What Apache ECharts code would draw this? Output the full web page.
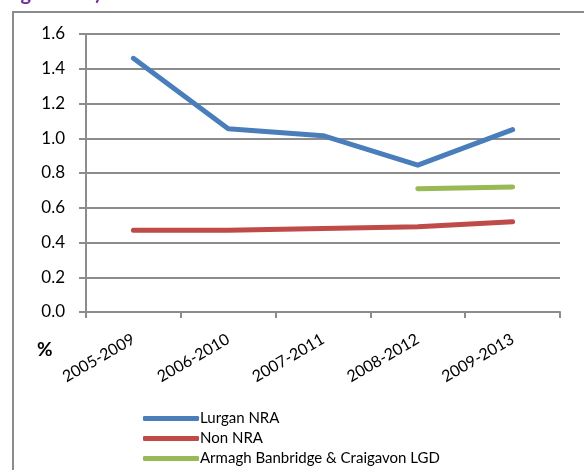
<!DOCTYPE html>
<html>
<head>
<meta charset="utf-8">
<script src="https://cdn.jsdelivr.net/npm/echarts@6/dist/echarts.min.js"></script>
<style>
html, body { margin: 0; padding: 0; background: #fff; }
#chart { width: 584px; height: 470px; }
</style>
</head>
<body>
<div id="chart"></div>
<script>
// 数据
const periods = ['2005-2009', '2006-2010', '2007-2011', '2008-2012', '2009-2013']
const lurganNra = [1.46, 1.055, 1.015, 0.845, 1.05]
const nonNra = [0.47, 0.47, 0.48, 0.49, 0.52]
const abcLgd = [null, null, null, 0.71, 0.72]
const yTicks = ['0.0', '0.2', '0.4', '0.6', '0.8', '1.0', '1.2', '1.4', '1.6']

const FONT = 'Lato, "Open Sans", sans-serif'
const GRID_COLOR = '#8c8c8c'

const myChart = echarts.init(document.getElementById('chart'))

const lineSeries = (name, data, color) => ({
	name: name,
	type: 'line',
	data: data,
	showSymbol: false,
	symbol: 'none',
	connectNulls: false,
	lineStyle: { color: color, width: 5, cap: 'round', join: 'round' },
	itemStyle: { color: color },
})

const option = {
	animation: false,
	graphic: [
		{
			// 外框
			type: 'rect',
			shape: { x: 13, y: 12, width: 620, height: 520 },
			style: { fill: 'none', stroke: '#8c8c8c', lineWidth: 2 },
			z: -1,
		},
		{
			// 被截掉的标题
			type: 'text',
			left: -8,
			top: -16,
			style: {
				text: 'Lurgan area)',
				fill: '#7030a0',
				font: 'bold 20px ' + FONT,
			},
		},
		{
			type: 'text',
			left: 37,
			top: 340,
			style: { text: '%', fill: '#000', font: 'bold 19px ' + FONT },
		},
	],
	grid: { left: 86, top: 34, right: 24, bottom: 158, containLabel: false },
	legend: {
		orient: 'vertical',
		left: 138,
		top: 406,
		height: 120,
		itemWidth: 56,
		itemHeight: 5,
		itemGap: 5,
		icon: 'roundRect',
		textStyle: { fontFamily: FONT, fontSize: 15, color: '#000', padding: [0, 0, 0, -4] },
		data: ['Lurgan NRA', 'Non NRA', 'Armagh Banbridge & Craigavon LGD'],
	},
	xAxis: {
		type: 'category',
		data: periods,
		boundaryGap: true,
		axisLine: { lineStyle: { color: GRID_COLOR, width: 2 } },
		axisTick: { show: true, length: 6, lineStyle: { color: GRID_COLOR, width: 2 } },
		axisLabel: {
			rotate: 30,
			fontFamily: FONT,
			fontSize: 16,
			color: '#000',
			margin: 26,
		},
	},
	yAxis: {
		type: 'value',
		min: 0,
		max: 1.6,
		interval: 0.2,
		axisLine: { show: true, lineStyle: { color: GRID_COLOR, width: 2 } },
		axisTick: { show: true, length: 7, lineStyle: { color: GRID_COLOR, width: 2 } },
		splitLine: { lineStyle: { color: GRID_COLOR, width: 2 } },
		axisLabel: {
			fontFamily: FONT,
			fontSize: 17,
			color: '#000',
			margin: 21,
			formatter: (val) => yTicks[Math.round(val / 0.2)],
		},
	},
	series: [
		lineSeries('Lurgan NRA', lurganNra, '#4a7ebb'),
		lineSeries('Non NRA', nonNra, '#be4b48'),
		lineSeries('Armagh Banbridge & Craigavon LGD', abcLgd, '#98b954'),
	],
}

myChart.setOption(option)
</script>
</body>
</html>
